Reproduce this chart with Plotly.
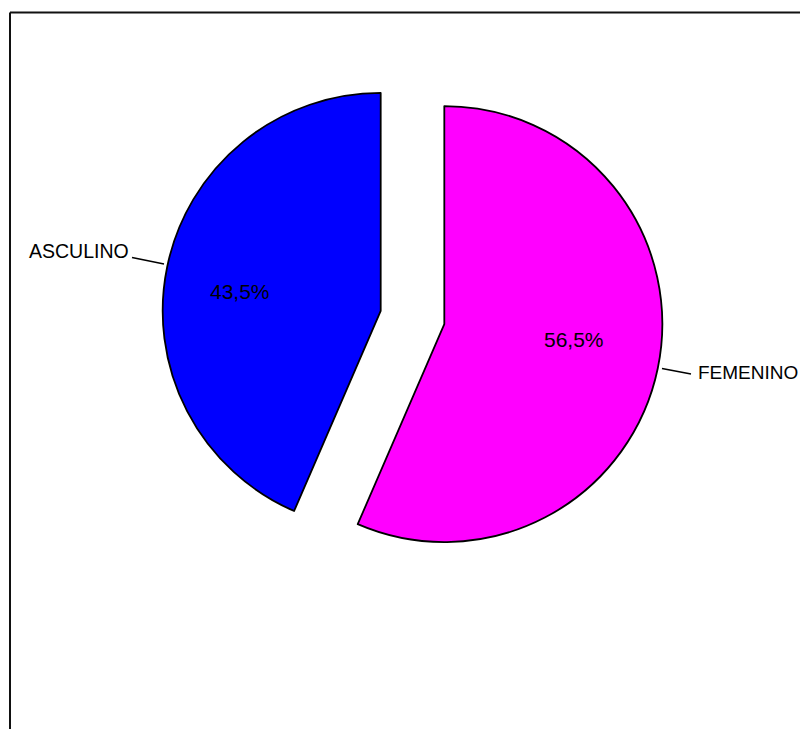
import plotly.graph_objects as go

# Data
categories = ["FEMENINO", "MASCULINO"]
display_labels = ["FEMENINO", "ASCULINO"]
values = [56.5, 43.5]
colors = ["#FF00FF", "#0000FF"]
pulls = [0.149, 0.149]

# page has an 8px body margin; work in page pixels and convert
OFF = 8
W, H = 808 - OFF, 729 - OFF

def px(x):
    return (x - OFF) / W

def py(y):
    return 1 - (y - OFF) / H

# pie box: centre (412.5, 317.5) page px, side 501 px
cx, cy, side = 412.5, 317.5, 501

FONT = "Liberation Sans, Arial, sans-serif"

fig = go.Figure()
fig.add_trace(go.Pie(
    labels=categories,
    values=values,
    sort=False,
    direction="clockwise",
    rotation=0,
    pull=pulls,
    marker=dict(colors=colors, line=dict(color="#000000", width=1.8)),
    textinfo="none",
    showlegend=False,
    hoverinfo="label+percent",
    domain=dict(x=[px(cx - side / 2), px(cx + side / 2)],
                y=[py(cy + side / 2), py(cy - side / 2)]),
))

total = sum(values)
pct_text = [("%.1f%%" % (v / total * 100)).replace(".", ",") for v in values]

shapes = [
    # frame (left and top edges visible)
    dict(type="line", xref="paper", yref="paper", x0=px(10), y0=py(12.5), x1=px(10), y1=py(740),
         line=dict(color="#111111", width=2)),
    dict(type="line", xref="paper", yref="paper", x0=px(10), y0=py(12.5), x1=px(820), y1=py(12.5),
         line=dict(color="#111111", width=2)),
    # leader lines
    dict(type="line", xref="paper", yref="paper", x0=px(132), y0=py(257.5), x1=px(164), y1=py(264),
         line=dict(color="#000000", width=1.5)),
    dict(type="line", xref="paper", yref="paper", x0=px(662), y0=py(368.5), x1=px(691), y1=py(374),
         line=dict(color="#000000", width=1.5)),
]

annotations = [
    dict(text=display_labels[1], xref="paper", yref="paper", x=px(131), y=py(251),
         xanchor="right", yanchor="middle", showarrow=False,
         font=dict(family=FONT, size=19.5, color="#000000")),
    dict(text=display_labels[0], xref="paper", yref="paper", x=px(696), y=py(372),
         xanchor="left", yanchor="middle", showarrow=False,
         font=dict(family=FONT, size=19, color="#000000")),
    dict(text=pct_text[1], xref="paper", yref="paper", x=px(240), y=py(291),
         xanchor="center", yanchor="middle", showarrow=False,
         font=dict(family=FONT, size=21, color="#000000")),
    dict(text=pct_text[0], xref="paper", yref="paper", x=px(574), y=py(339),
         xanchor="center", yanchor="middle", showarrow=False,
         font=dict(family=FONT, size=21, color="#000000")),
]

fig.update_layout(
    width=W, height=H,
    margin=dict(l=0, r=0, t=0, b=0),
    paper_bgcolor="#FFFFFF",
    plot_bgcolor="#FFFFFF",
    separators=",.",
    shapes=shapes,
    annotations=annotations,
)

fig.write_html("out.html")
